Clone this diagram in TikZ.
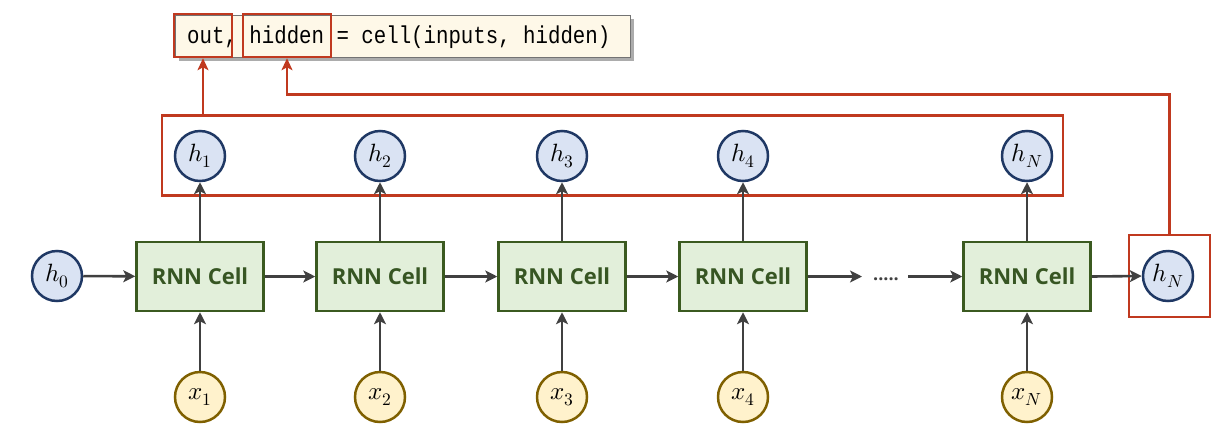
\documentclass[tikz,border=0pt]{standalone}
\usepackage{fontspec}
\usepackage{unicode-math}
\setmathfont{Latin Modern Math}
\setsansfont{Open Sans}
\setmonofont[FakeStretch=0.85]{Liberation Mono}
\usetikzlibrary{arrows.meta,shadows,positioning}
\definecolor{cellfill}{HTML}{E2EFDA}
\definecolor{celldraw}{HTML}{3B5A20}
\definecolor{celltext}{HTML}{375623}
\definecolor{hfill}{HTML}{DAE3F3}
\definecolor{hdraw}{HTML}{1F3864}
\definecolor{xfill}{HTML}{FFF2CC}
\definecolor{xdraw}{HTML}{7F6000}
\definecolor{myred}{HTML}{C0391F}
\definecolor{arrowgray}{HTML}{404040}
\definecolor{codefill}{HTML}{FEF8E8}
\tikzset{
  cellbox/.style={draw=celldraw, fill=cellfill, line width=2.5pt, minimum width=127pt, minimum height=69pt, inner sep=0pt,
    font=\sffamily\bfseries\fontsize{22}{26}\selectfont, text=celltext},
  hcirc/.style={circle, draw=hdraw, fill=hfill, line width=2.5pt, minimum size=50pt, inner sep=0pt, font=\fontsize{25}{28}\selectfont},
  xcirc/.style={circle, draw=xdraw, fill=xfill, line width=2.5pt, minimum size=50pt, inner sep=0pt, font=\fontsize{25}{28}\selectfont},
  redbox/.style={draw=myred, line width=2.5pt, inner sep=0pt},
  garrow/.style={draw=arrowgray, line width=2.6pt, -{Stealth[length=12pt,width=12pt,inset=3pt]}},
  rarrow/.style={draw=myred, line width=2.5pt, -{Stealth[length=12pt,width=11pt,inset=3pt]}},
  codebox/.style={draw=black!55, line width=0.8pt, fill=codefill, inner sep=0pt,
    drop shadow={shadow xshift=4pt, shadow yshift=-4pt, opacity=0.5, fill=black!65}},
  codetext/.style={font=\ttfamily\fontsize{24.4}{28}\selectfont, inner sep=0pt, anchor=west}
}
\begin{document}
\begin{tikzpicture}[x=1pt,y=-1pt]
\useasboundingbox (0,0) rectangle (1226,445);
% code box
\node[codebox, minimum width=455pt, minimum height=42pt, anchor=north west] (code) at (175,15) {};
\node[codetext] (codeline) at (187,37) {out, hidden = cell(inputs, hidden)};
\node[redbox, minimum width=58pt, minimum height=43pt] (outbox) at (203,35.5) {};
\node[redbox, minimum width=88pt, minimum height=43pt] (hiddenbox) at (287,35.5) {};
% red boxes
\node[redbox, minimum width=901pt, minimum height=80pt] (topbox) at (612.5,155.5) {};
\node[redbox, minimum width=81pt, minimum height=82pt] (hnbox) at (1169.5,276) {};
% cells
\foreach \i/\x in {1/200,2/380,3/562,4/743,5/1027}{
  \node[cellbox] (c\i) at (\x,276.5) {RNN Cell};
}
% top h circles
\node[hcirc] (h1) at (200,156) {$h_1$};
\node[hcirc] (h2) at (380,156) {$h_2$};
\node[hcirc] (h3) at (562,156) {$h_3$};
\node[hcirc] (h4) at (743,156) {$h_4$};
\node[hcirc] (h5) at (1027,156) {$h_N$};
% x circles
\node[xcirc] (x1) at (200,397) {$x_1$};
\node[xcirc] (x2) at (380,397) {$x_2$};
\node[xcirc] (x3) at (562,397) {$x_3$};
\node[xcirc] (x4) at (743,397) {$x_4$};
\node[xcirc] (x5) at (1027,397) {$x_N$};
% h0 and hN
\node[hcirc] (h0) at (57,276) {$h_0$};
\node[hcirc] (hN) at (1168,276) {$h_N$};
% dots
\node[font=\sffamily\bfseries\fontsize{18}{20}\selectfont, text=arrowgray, inner sep=0pt, anchor=base] (dots) at (886,280) {.....};
\coordinate (dl) at (862,276.5);
\coordinate (dr) at (908,276.5);
% horizontal arrows
\draw[garrow] (h0) -- (c1);
\draw[garrow] (c1) -- (c2);
\draw[garrow] (c2) -- (c3);
\draw[garrow] (c3) -- (c4);
\draw[garrow] (c4.east) -- (dl);
\draw[garrow] (dr) -- (c5.west);
\draw[garrow] (c5.east) -- (hN.west);
% vertical arrows
\foreach \i in {1,...,5}{
  \draw[garrow] (c\i.north) -- (h\i.south);
  \draw[garrow] (x\i.north) -- (c\i.south);
}
% red arrows
\draw[rarrow] (topbox.north -| outbox.south) -- (outbox.south);
\draw[rarrow] (hnbox.north) |- ([yshift=-36pt]hiddenbox.south) -- (hiddenbox.south);
\end{tikzpicture}
\end{document}
